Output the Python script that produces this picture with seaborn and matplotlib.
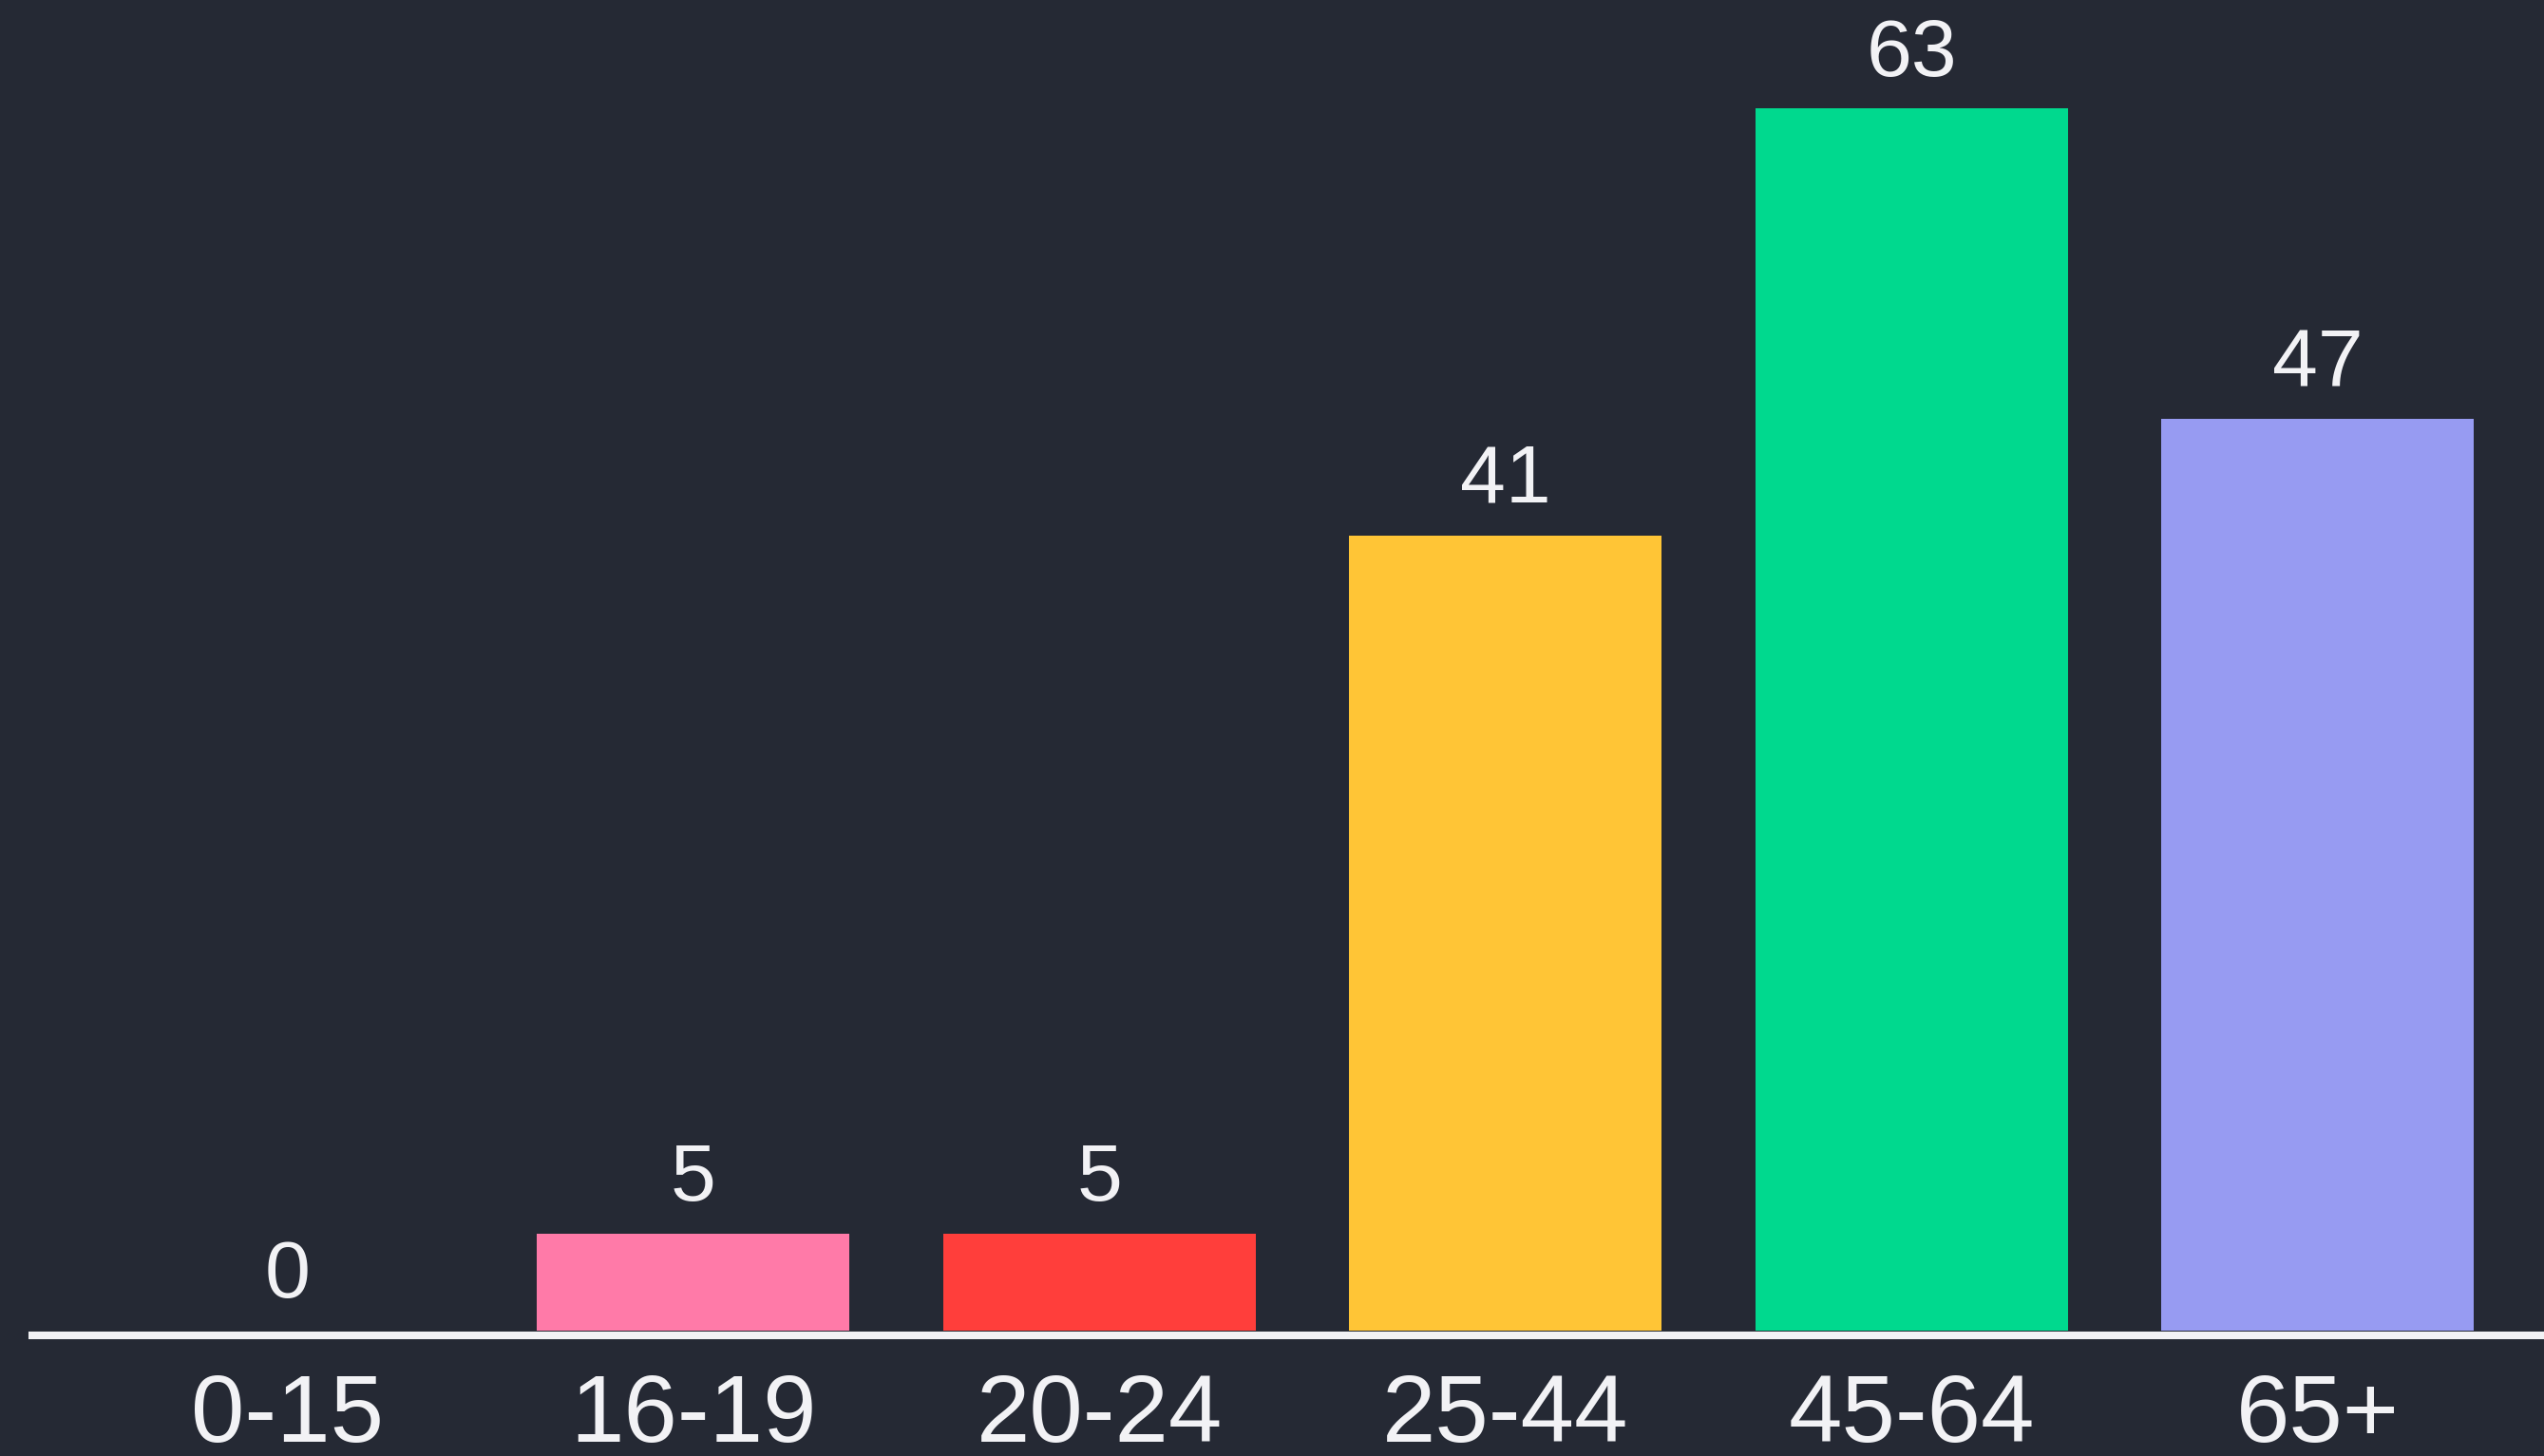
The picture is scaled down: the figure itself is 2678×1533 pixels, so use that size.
import matplotlib
matplotlib.use("Agg")
import matplotlib.pyplot as plt
import seaborn as sns
import pandas as pd

categories = ["0-15", "16-19", "20-24", "25-44", "45-64", "65+"]
values = [0, 5, 5, 41, 63, 47]
colors = ["#ff7aa8", "#ff7aa8", "#ff3e3b", "#ffc536", "#00d98e", "#979bf2"]

BG = "#252934"
FG = "#f2f2f5"

sns.set_theme(style="dark")
plt.rcParams["font.family"] = ["Liberation Sans", "DejaVu Sans"]

df = pd.DataFrame({"age": categories, "count": values})

fig = plt.figure(figsize=(13.39, 7.665), dpi=200, facecolor=BG)
ax = fig.add_axes([0.01276, 0.0830, 0.98724, 0.917])
ax.set_facecolor(BG)

sns.barplot(data=df, x="age", y="count", hue="age", palette=colors,
            order=categories, hue_order=categories, legend=False,
            width=0.77, saturation=1, ax=ax, linewidth=0)

for c in ax.containers:
    ax.bar_label(c, padding=6, color=FG, fontsize=31)

ax.set_xlim(-0.627, 5.557)
ax.set_ylim(-0.25, 68.6)
ax.set_xlabel("")
ax.set_ylabel("")
ax.set_yticks([])
ax.tick_params(axis="x", length=0, pad=14, labelsize=36.5, labelcolor=FG)
ax.grid(False)
for s in ["top", "left", "right"]:
    ax.spines[s].set_visible(False)
ax.spines["bottom"].set_color(FG)
ax.spines["bottom"].set_linewidth(2.9)
ax.spines["bottom"].set_zorder(0.5)

fig.savefig("out.png", dpi=200, facecolor=BG)
